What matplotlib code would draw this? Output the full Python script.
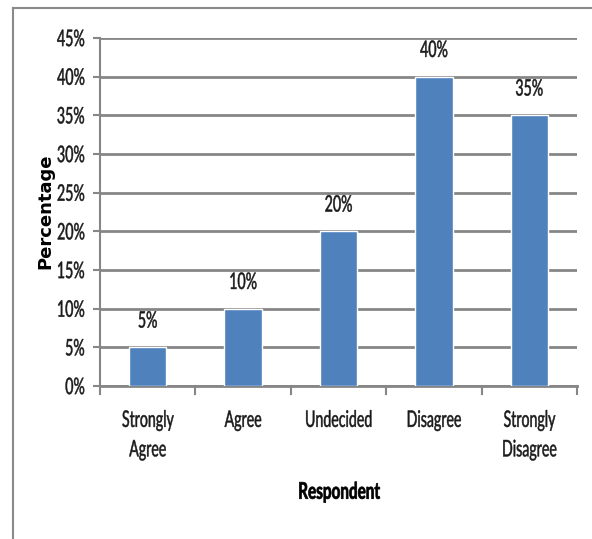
import matplotlib
matplotlib.use("Agg")
import matplotlib.pyplot as plt
from matplotlib.lines import Line2D
from matplotlib.patheffects import AbstractPathEffect
from matplotlib.transforms import Affine2D

categories = ["Strongly\nAgree", "Agree", "Undecided", "Disagree", "Strongly\nDisagree"]
values = [5, 10, 20, 40, 35]
yticks = [0, 5, 10, 15, 20, 25, 30, 35, 40, 45]


class Tall(AbstractPathEffect):
    """Stretch glyph outlines vertically about the middle of the cap height,
    giving a condensed look while the text keeps its narrow layout width."""

    MID_CAP = 35.8  # text-path units (1 em = 100)

    def __init__(self, sy, stroke=0.0):
        super().__init__()
        self.sy = sy
        self.stroke = stroke

    def draw_path(self, renderer, gc, tpath, affine, rgbFace=None):
        m = self.MID_CAP
        t = Affine2D().translate(0, -m).scale(1, self.sy).translate(0, m) + affine
        gc0 = renderer.new_gc()
        gc0.copy_properties(gc)
        gc0.set_linewidth(self.stroke)
        if rgbFace is not None:
            gc0.set_foreground(rgbFace)
        renderer.draw_path(gc0, tpath, t, rgbFace)
        gc0.restore()


FONT = "Lato"
SY = 1.61
FS = 10.2
TXT = "#1a1a1a"

fig = plt.figure(figsize=(5.92, 5.39), dpi=100)
ax = fig.add_axes([100 / 592, 1 - 386 / 539, 477 / 592, 348 / 539])

grid_c = "#868686"
bar_c = "#4F81BD"

x = list(range(len(categories)))
ax.bar(x, values, width=0.39, color=bar_c, edgecolor="white", linewidth=1, zorder=3)
for xi, v in zip(x, values):
    ax.text(xi, v + 2.95, f"{v}%", ha="center", va="baseline", fontsize=FS,
            family=FONT, color=TXT, path_effects=[Tall(SY, 0.35)])

ax.set_xlim(-0.5, len(categories) - 0.5)
ax.set_ylim(0, 45)
ax.set_yticks(yticks)
ax.set_yticklabels([f"{t}%" for t in yticks], family=FONT, fontsize=FS, color=TXT,
                   path_effects=[Tall(SY, 0.35)])
ax.yaxis.grid(True, color=grid_c, linewidth=2, zorder=0)
ax.set_axisbelow(True)

ax.set_xticks(x)
ax.set_xticklabels(categories, family=FONT, fontsize=FS, color=TXT, linespacing=2.75,
                   path_effects=[Tall(SY, 0.35)])
ax.tick_params(axis="x", length=0, pad=20)
ax.tick_params(axis="y", length=5, width=1.5, color=grid_c, pad=6)

# category separators below the axis
for b in [i - 0.5 for i in range(len(categories) + 1)]:
    ax.plot([b, b], [0, -1.0], color=grid_c, linewidth=1.5, clip_on=False, zorder=4)

for s in ["top", "right"]:
    ax.spines[s].set_visible(False)
ax.spines["left"].set_color(grid_c)
ax.spines["left"].set_linewidth(1.5)
ax.spines["bottom"].set_color(grid_c)
ax.spines["bottom"].set_linewidth(2)

fig.text(339 / 592, 1 - 492 / 539, "Respondent", ha="center", va="center",
         fontsize=11.0, fontweight="bold", family=FONT, color="#000000",
         path_effects=[Tall(1.5, 0.5)])
fig.text(45 / 592, 1 - 211 / 539, "Percentage", ha="center", va="center",
         rotation=90, fontsize=13, fontweight="bold", family="DejaVu Sans", color="#000000")

# outer chart frame
fig.add_artist(Line2D([13 / 592, 13 / 592], [0, 1 - 8 / 539], color="#8a8a8a", linewidth=1.5))
fig.add_artist(Line2D([13 / 592, 1], [1 - 8 / 539, 1 - 8 / 539], color="#8a8a8a", linewidth=1.5))

fig.savefig("out.png", dpi=100)
